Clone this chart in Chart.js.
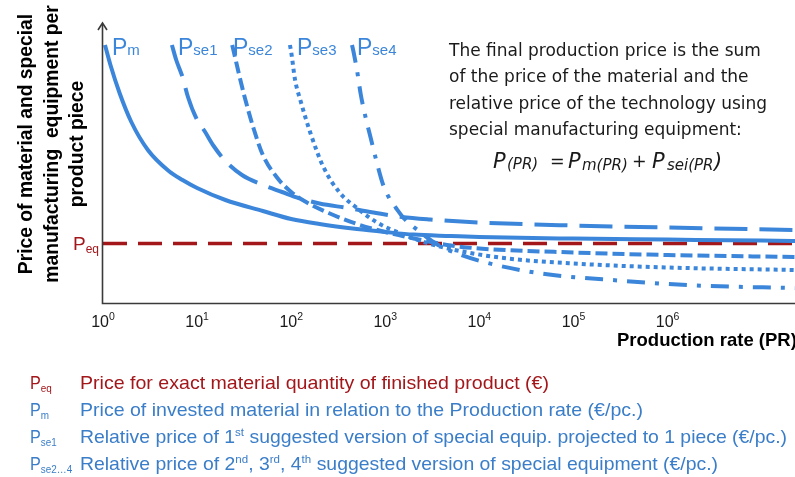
<!DOCTYPE html>
<html>
<head>
<meta charset="utf-8">
<script src="https://cdn.jsdelivr.net/npm/chart.js@4.4.1/dist/chart.umd.min.js"></script>
<style>
  html, body { margin: 0; padding: 0; background: #fff; overflow: hidden; }
  #wrap { width: 795px; height: 477px; position: relative; }
</style>
</head>
<body>
<div id="wrap"><canvas id="c"></canvas></div>
<script>
// Production rate (pieces) and price per piece for every curve
const pmRate    = [1.05, 1.2, 1.5, 2, 3, 5, 7, 10, 20, 50, 100, 200, 500, 1000, 2000, 5000, 1e4, 1e5, 1e6, 1e7, 2.3e7];
const pmPrice   = [129, 119, 105, 90.5, 76.5, 66, 61.5, 57.5, 51.5, 46, 42, 39.5, 37, 35.5, 34.2, 33.5, 33, 32.2, 31.7, 31.2, 31];

const pse1Rate  = [5.4, 6, 7, 8, 10, 12, 15, 20, 30, 50, 80, 120, 200, 400, 800, 1500, 3000, 1e4, 1e5, 1e6, 2.3e7];
const pse1Price = [129, 121.5, 113, 103, 91.5, 86, 78.5, 71, 64, 59, 55.5, 52.5, 49.75, 47.5, 45, 43, 41.75, 40.25, 38.75, 37.75, 36.5];

const pse2Rate  = [23.6, 25, 28, 32, 40, 50, 70, 100, 150, 250, 500, 1000, 2000, 5000, 1e4, 1e5, 1e6, 2.3e7];
const pse2Price = [129, 124, 114, 103, 87, 74, 63, 55.5, 50, 45, 39.5, 35.5, 32.25, 28.75, 27.25, 25.25, 24, 23];

const pse3Rate  = [97, 100, 110, 125, 160, 220, 330, 500, 800, 1500, 3000, 7000, 2e4, 1e5, 1e6, 2.3e7];
const pse3Price = [129, 125.5, 111.5, 101.5, 85, 68, 55, 47.5, 40.5, 34.5, 29.5, 25.5, 22.25, 19.75, 17.75, 16.5];

const pse4Rate  = [443, 460, 500, 550, 620, 700, 800, 950, 1100, 1300, 1600, 2200, 3500, 6000, 1.5e4, 5e4, 3e5, 2e6, 2.3e7];
const pse4Price = [129, 125.5, 116.5, 104, 92.5, 82.5, 71.5, 59, 52.5, 47.5, 42, 36.5, 29.5, 24.5, 19, 14.5, 11.25, 8.75, 7.5];

// Price for the exact material quantity (constant over the rate range)
const peqRate   = [1, 2.3e7];
const peqPrice  = [29.8, 29.8];

// Decade exponents shown on the production-rate axis
const tickExponents = [0, 1, 2, 3, 4, 5, 6];

const BLUE = '#3b86da';
const BLUE_TEXT = '#3a7dc8';
const RED = '#a3161a';

function pts(xs, ys) { return xs.map((x, i) => ({ x, y: ys[i] })); }

function curve(label, xs, ys, color, width, dash) {
  return {
    label, data: pts(xs, ys), showLine: true,
    borderColor: color, backgroundColor: color, borderWidth: width,
    borderDash: dash, borderCapStyle: 'butt', borderJoinStyle: 'round',
    cubicInterpolationMode: 'monotone', pointRadius: 0, fill: false, clip: 6
  };
}

const datasets = [
  curve('Pm',   pmRate,   pmPrice,   BLUE, 4, []),
  curve('Pse1', pse1Rate, pse1Price, BLUE, 4, [33, 12]),
  curve('Pse2', pse2Rate, pse2Price, BLUE, 4, [12, 5]),
  curve('Pse3', pse3Rate, pse3Price, BLUE, 4, [4, 4]),
  curve('Pse4', pse4Rate, pse4Price, BLUE, 4, [18, 10, 4, 10]),
  curve('Peq',  peqRate,  peqPrice,  RED,  3.5, [24, 11])
];

// Draw a sequence of text runs left to right, optionally squeezed horizontally
function drawRuns(ctx, x, y, runs, sx) {
  ctx.save();
  ctx.translate(x, y);
  ctx.scale(sx || 1, 1);
  let cx = 0;
  for (const r of runs) {
    ctx.font = r.font;
    ctx.fillStyle = r.color;
    ctx.fillText(r.text, cx, r.dy || 0);
    cx += ctx.measureText(r.text).width;
  }
  ctx.restore();
}
function runsWidth(ctx, runs) {
  let w = 0;
  for (const r of runs) { ctx.font = r.font; w += ctx.measureText(r.text).width; }
  return w;
}

const SANS = '"Liberation Sans", Arial, sans-serif';
const DEJA = '"DejaVu Sans", sans-serif';

const curveLabels = [
  { sub: 'm',   x: 112 },
  { sub: 'se1', x: 178 },
  { sub: 'se2', x: 233 },
  { sub: 'se3', x: 297 },
  { sub: 'se4', x: 357 }
];

const noteLines = [
  'The final production price is the sum',
  'of the price of the material and the',
  'relative price of the technology using',
  'special manufacturing equipment:'
];

const yTitleLines = [
  'Price of material and special',
  'manufacturing  equipment per',
  'product piece'
];

const legendRows = [
  { sub: 'eq', color: RED, right: 549,
    parts: [['Price for exact material quantity of finished product (€)']] },
  { sub: 'm', color: BLUE_TEXT, right: 643,
    parts: [['Price of invested material in relation to the Production rate (€/pc.)']] },
  { sub: 'se1', color: BLUE_TEXT, right: 787,
    parts: [['Relative price of 1'], ['st', 1], [' suggested version of special equip. projected to 1 piece (€/pc.)']] },
  { sub: 'se2…4', color: BLUE_TEXT, right: 718,
    parts: [['Relative price of 2'], ['nd', 1], [', 3'], ['rd', 1], [', 4'], ['th', 1], [' suggested version of special equipment (€/pc.)']] }
];

const decorations = {
  id: 'decorations',
  afterDatasetsDraw(chart) {
    const ctx = chart.ctx;
    const xs = chart.scales.x;
    const area = chart.chartArea;
    ctx.save();

    // Axes with an arrow on the price axis
    const ax = area.left - 0.5, ay = area.bottom + 0.5;
    ctx.strokeStyle = '#3a3a3a';
    ctx.lineWidth = 1.6;
    ctx.beginPath();
    ctx.moveTo(ax, area.top + 1);
    ctx.lineTo(ax, ay);
    ctx.lineTo(area.right + 2, ay);
    ctx.stroke();
    ctx.beginPath();
    ctx.moveTo(ax - 4.5, area.top + 7);
    ctx.lineTo(ax, area.top);
    ctx.lineTo(ax + 4.5, area.top + 7);
    ctx.stroke();

    // Decade tick labels 10^n
    ctx.textBaseline = 'alphabetic';
    for (const e of tickExponents) {
      const px = xs.getPixelForValue(Math.pow(10, e));
      const runs = [
        { text: '10', font: '16px ' + SANS, color: '#1a1a1a' },
        { text: String(e), font: '10.5px ' + SANS, color: '#1a1a1a', dy: -7.5 }
      ];
      const w = runsWidth(ctx, runs);
      drawRuns(ctx, px - w / 2, 327, runs);
    }

    // Axis titles
    ctx.fillStyle = '#000';
    ctx.font = 'bold 18.5px ' + SANS;
    ctx.textAlign = 'left';
    ctx.fillText('Production rate (PR)', 617, 346);

    ctx.save();
    ctx.font = 'bold 19.3px ' + SANS;
    ctx.textAlign = 'center';
    const basesX = [32, 58, 83];
    yTitleLines.forEach((t, i) => {
      ctx.save();
      ctx.translate(basesX[i], 144);
      ctx.rotate(-Math.PI / 2);
      ctx.fillText(t, 0, 0);
      ctx.restore();
    });
    ctx.restore();

    // Curve names
    ctx.textAlign = 'left';
    for (const c of curveLabels) {
      drawRuns(ctx, c.x, 55, [
        { text: 'P', font: '23px ' + SANS, color: BLUE },
        { text: c.sub, font: '15px ' + SANS, color: BLUE }
      ]);
    }

    // Equilibrium price label on the price axis
    const peqY = chart.scales.y.getPixelForValue(peqPrice[0]);
    drawRuns(ctx, 73, peqY + 7, [
      { text: 'P', font: '19px ' + SANS, color: RED },
      { text: 'eq', font: '12px ' + SANS, color: RED, dy: 3 }
    ]);

    // Explanatory note
    ctx.fillStyle = '#1a1a1a';
    ctx.font = '17px ' + DEJA;
    noteLines.forEach((t, i) => ctx.fillText(t, 449, 55.5 + i * 26.6));

    // Formula P(PR) = Pm(PR) + Psei(PR)
    const big = 'italic 21px ' + DEJA, small = 'italic 15px ' + DEJA, plain = '17.5px ' + DEJA;
    const ink = '#1a1a1a';
    const formula = [
      { text: 'P', font: big, x: 493, dy: 0 },
      { text: '(PR)', font: small, x: 507, dy: 1 },
      { text: '=', font: plain, x: 550, dy: -1 },
      { text: 'P', font: big, x: 568, dy: 0 },
      { text: 'm(PR)', font: small, x: 582, dy: 2 },
      { text: '+', font: plain, x: 632, dy: -1 },
      { text: 'P', font: big, x: 652, dy: 0 },
      { text: 'sei(PR', font: small, x: 667, dy: 2 },
      { text: ')', font: big, x: 714, dy: 0 }
    ];
    for (const f of formula) {
      ctx.font = f.font; ctx.fillStyle = ink;
      ctx.fillText(f.text, f.x, 168 + f.dy);
    }

    // Key below the chart
    legendRows.forEach((row, i) => {
      const by = 389 + i * 27;
      drawRuns(ctx, 30, by, [
        { text: 'P', font: '18px ' + SANS, color: row.color },
        { text: row.sub, font: '11px ' + SANS, color: row.color, dy: 3 }
      ], 0.9);
      const runs = row.parts.map(p => p[1]
        ? { text: p[0], font: '11px ' + SANS, color: row.color, dy: -7 }
        : { text: p[0], font: '18.5px ' + SANS, color: row.color });
      const w = runsWidth(ctx, runs);
      drawRuns(ctx, 80, by, runs, (row.right - 80) / w);
    });

    ctx.restore();
  }
};

new Chart(document.getElementById('c'), {
  type: 'scatter',
  data: { datasets },
  options: {
    responsive: true,
    maintainAspectRatio: false,
    animation: false,
    devicePixelRatio: 1,
    layout: { padding: { left: 103, right: 0, top: 23, bottom: 174 } },
    plugins: { legend: { display: false }, tooltip: { enabled: false } },
    scales: {
      x: { type: 'logarithmic', min: 1, max: 2.26e7, display: false },
      y: { type: 'linear', min: 0, max: 140, display: false }
    }
  },
  plugins: [decorations]
});
</script>
</body>
</html>
